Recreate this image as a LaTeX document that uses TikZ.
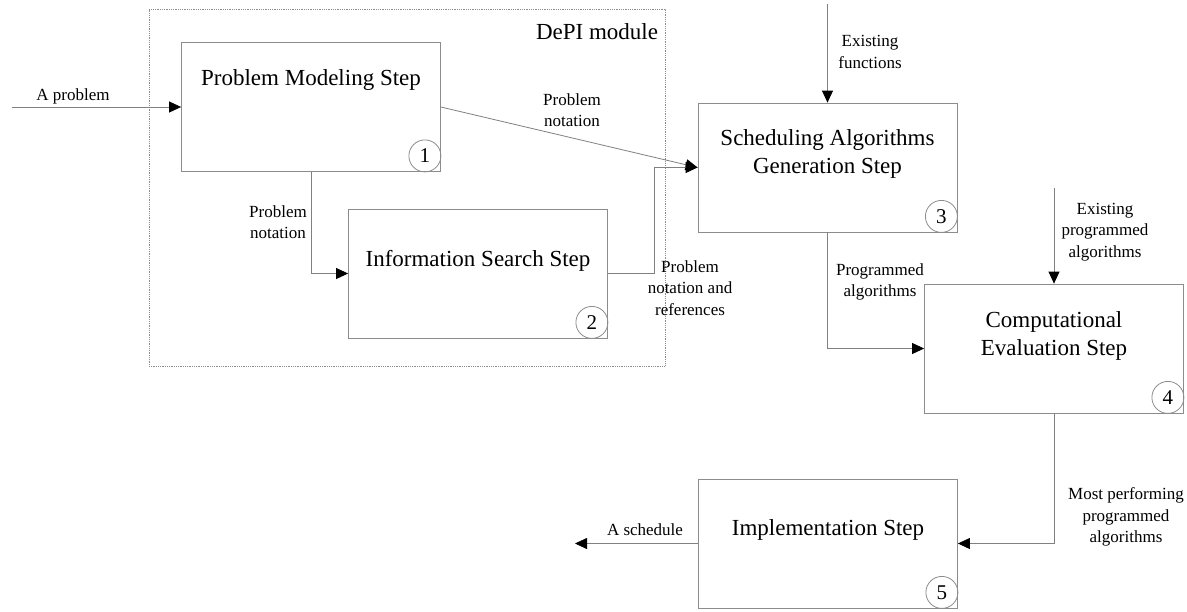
\documentclass[tikz,border=0pt]{standalone}
\usepackage{fontspec}
\setmainfont{Liberation Serif}
\usetikzlibrary{arrows.meta}

\begin{document}
\begin{tikzpicture}[x=1pt,y=-1pt,
		stepbox/.style={draw=black!45,line width=0.8pt,minimum width=259pt,minimum height=129pt,inner sep=0pt},
		title/.style={font=\fontsize{23}{28}\selectfont,align=center},
		lbl/.style={font=\fontsize{17}{21.5}\selectfont,align=center},
		num/.style={circle,draw=black!45,line width=0.8pt,minimum size=32pt,inner sep=0pt,font=\fontsize{21}{21}\selectfont},
		flow/.style={draw=black!50,line width=0.8pt,-{Triangle[length=12pt,width=11pt,black]}}]
		\useasboundingbox (0,0) rectangle (1187,611);
		% DePI module
		\node[draw=black!45,line width=0.8pt,densely dotted,minimum width=516pt,minimum height=357pt,inner sep=0pt] (depi) at (407,187.5) {};
		\node[title] (depi-t) at (597,32) {DePI module};
		% steps
		\node[stepbox] (pm) at (311,107) {};
		\node[title] (pm-t) at (311,80) {Problem Modeling Step};
		\node[num] (pm-n) at ([shift={(-16,-16)}]pm.south east) {1};
		\node[stepbox] (is) at (478,273.5) {};
		\node[title] (is-t) at (478,261) {Information Search Step};
		\node[num] (is-n) at ([shift={(-16,-16)}]is.south east) {2};
		\node[stepbox] (sa) at (827.5,167.5) {};
		\node[title] (sa-t) at (827.5,154) {Scheduling Algorithms\\Generation Step};
		\node[num] (sa-n) at ([shift={(-16,-16)}]sa.south east) {3};
		\node[stepbox] (ce) at (1054,348.5) {};
		\node[title] (ce-t) at (1054,335.5) {Computational\\Evaluation Step};
		\node[num] (ce-n) at ([shift={(-16,-16)}]ce.south east) {4};
		\node[stepbox] (im) at (828,543.5) {};
		\node[title] (im-t) at (828,530) {Implementation Step};
		\node[num] (im-n) at ([shift={(-16,-16)}]im.south east) {5};
		% inputs and outputs
		\coordinate (pin) at (12,107);
		\coordinate (ef) at (827.5,4);
		\coordinate (ep) at (1054,188);
		\coordinate (out) at (575,543.5);
		% flows
		\draw[flow] (pin) -- (pm.west);
		\node[lbl] (pin-l) at (73,96) {A problem};
		\draw[flow] (pm.south) |- (is.west);
		\node[lbl] (pm-is) at (278,222) {Problem\\notation};
		\draw[flow] (pm.east) -- (sa.west);
		\node[lbl] (pm-sa) at (572,110) {Problem\\notation};
		\draw[flow] (is.east) -- ++(46,0) |- (sa.west);
		\node[lbl] (is-sa) at (690,288) {Problem\\notation and\\references};
		\draw[flow] (ef) -- (sa.north);
		\node[lbl] (ef-l) at (870,52) {Existing\\functions};
		\draw[flow] (sa.south) |- (ce.west);
		\node[lbl] (sa-ce) at (880,282) {Programmed\\algorithms};
		\draw[flow] (ep) -- (ce.north);
		\node[lbl] (ep-l) at (1105,232) {Existing\\programmed\\algorithms};
		\draw[flow] (ce.south) |- (im.east);
		\node[lbl] (ce-im) at (1126,517) {Most performing\\programmed\\algorithms};
		\draw[flow] (im.west) -- (out);
		\node[lbl] (out-l) at (645,530) {A schedule};
	\end{tikzpicture}
\end{document}
